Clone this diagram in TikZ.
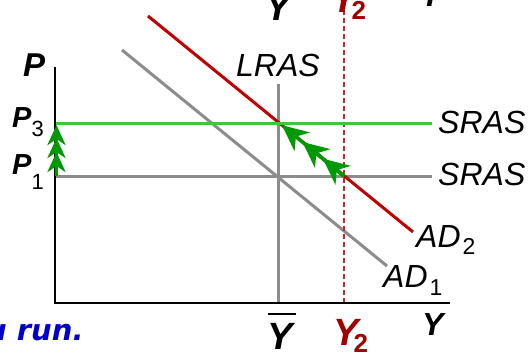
\documentclass[tikz,border=0pt]{standalone}
\usepackage{fontspec}
\setmainfont{Liberation Sans}
\newfontfamily\verdanalike{DejaVu Sans}
\usetikzlibrary{arrows.meta,calc}
\definecolor{adred}{HTML}{C00000}
\definecolor{ytwored}{HTML}{A00000}
\definecolor{srasgray}{HTML}{8C8C8C}
\definecolor{lightgreen}{HTML}{3CC83C}
\definecolor{arrowgreen}{HTML}{009A00}
\definecolor{textblue}{HTML}{0000CC}
\newcommand{\lsub}[3]{\raisebox{#1}{\fontsize{#2}{#2}\selectfont\upshape\mdseries #3}}
\newcommand{\bsub}[3]{\raisebox{#1}{\fontsize{#2}{#2}\selectfont\upshape\bfseries #3}}
\tikzset{
  lbl/.style={inner sep=0pt, anchor=base west, font=\fontsize{32}{32}\selectfont\itshape},
  plbl/.style={inner sep=0pt, anchor=base west, font=\fontsize{29}{29}\selectfont\bfseries\itshape},
  ylbl/.style={inner sep=0pt, anchor=base west, font=\fontsize{38}{38}\selectfont\bfseries\itshape},
  axis/.style={line width=1.5pt, black},
  grayline/.style={line width=3pt, srasgray},
  redline/.style={line width=3pt, adred},
  greenline/.style={line width=3pt, lightgreen},
  dashline/.style={line width=1.4pt, adred!85!white, dash pattern=on 5pt off 3pt},
  vhead/.style={line width=3.5pt, arrowgreen, -{Stealth[length=20pt,width=18pt,inset=6pt]}},
  dhead/.style={line width=3.5pt, arrowgreen, -{Stealth[length=26pt,width=24pt,inset=8pt]}}
}
\begin{document}
\begin{tikzpicture}[x=1pt,y=-1pt]
\useasboundingbox (0,0) rectangle (532,353);
\fill[white] (0,0) rectangle (532,353);

% key points
\coordinate (o) at (55,303);
\coordinate (ytop) at (55,67);
\coordinate (xend) at (450,303);
\coordinate (lrastop) at (278,84);
\coordinate (lrasbot) at (278,303);
\coordinate (dtop) at (344,10);
\coordinate (dbot) at (344,303);
\coordinate (s1l) at (55,176);
\coordinate (s1r) at (432,176);
\coordinate (s3l) at (56,123);
\coordinate (s3r) at (432,123);
\coordinate (ad1a) at (122,50);
\coordinate (ad1b) at (387,266);
\coordinate (ad2a) at (148,16);
\coordinate (ad2b) at (413,232);
\coordinate (e3) at (344,176);
\coordinate (e2) at (278,122);
\coordinate (va) at (56.5,176);
\coordinate (vb) at (56.5,125);

% lines
\draw[grayline] (s1l) -- (s1r);
\draw[grayline] (lrastop) -- (lrasbot);
\draw[grayline] (ad1a) -- (ad1b);
\draw[dashline] (dtop) -- (dbot);
\draw[redline] (ad2a) -- (ad2b);
\draw[greenline] (s3l) -- (s3r);
\draw[axis] (ytop) -- (o) -- (xend);

% green arrows on the price axis
\draw[vhead] (va) -- (vb);
\draw[vhead] (va) -- ($(vb)+(0,13)$);
\draw[vhead] (va) -- ($(vb)+(0,27)$);

% green arrows along AD2
\draw[dhead] (e3) -- ($(e3)!0.94!(e2)$);
\draw[dhead] (e3) -- ($(e3)!0.63!(e2)$);
\draw[dhead] (e3) -- ($(e3)!0.32!(e2)$);

% labels
\node[plbl, font=\fontsize{33}{33}\selectfont\bfseries\itshape] (plab) at (23,76) {P};
\node[plbl] (p3) at (12,127) {P\lsub{-9pt}{22}{3}};
\node[plbl] (p1) at (12,174) {P\lsub{-15pt}{22}{1}};
\node[lbl] (lras) at (236,76) {LRAS};
\node[lbl] (sras3) at (438,133) {SRAS};
\node[lbl] (sras1) at (438,185) {SRAS};
\node[lbl] (ad2) at (416,247) {AD\kern2pt\lsub{-7pt}{23}{2}};
\node[lbl] (ad1) at (383,287) {AD\kern2pt\lsub{-8pt}{23}{1}};

\node[ylbl] (ybar) at (267,349) {Y};
\draw[line width=2pt] ([xshift=1pt,yshift=9pt]ybar.north west) -- ([xshift=3pt,yshift=9pt]ybar.north east);
\node[ylbl, text=ytwored] (y2) at (333,345) {Y\kern-5pt\bsub{-7pt}{26}{2}};
\node[ylbl, font=\fontsize{32}{32}\selectfont\bfseries\itshape] (yax) at (422,335) {Y};

% cut-off labels at the top edge
\node[ylbl] (ybartop) at (265,21) {Y};
\node[ylbl, text=ytwored] (y2top) at (331,13) {Y\kern-5pt\bsub{-7pt}{26}{2}};
\node[ylbl, font=\fontsize{32}{32}\selectfont\bfseries\itshape] (yaxtop) at (420,7) {Y};

% cut-off text at the bottom edge
\node[inner sep=0pt, anchor=base west, text=textblue, font=\verdanalike\fontsize{29}{29}\selectfont\bfseries\itshape] (run) at (-14,340) {u run.};
\end{tikzpicture}
\end{document}
